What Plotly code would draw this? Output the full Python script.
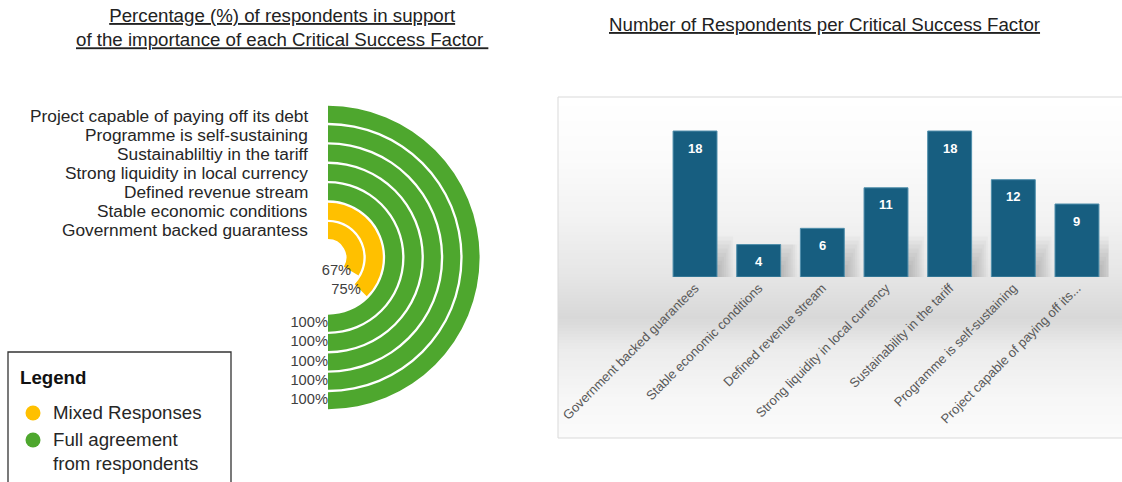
import numpy as np
import plotly.graph_objects as go

W, H = 1122, 482
FONT = "Liberation Sans, Arial, sans-serif"

# ---- Radial chart data (innermost ring first) ----
factors = [
    "Government backed guarantess",
    "Stable economic conditions",
    "Defined revenue stream",
    "Strong liquidity in local currency",
    "Sustainabliltiy in the tariff",
    "Programme is self-sustaining",
    "Project capable of paying off its debt",
]
support_pct = [67, 75, 100, 100, 100, 100, 100]

# ---- Bar chart data ----
bar_factors = [
    "Government backed guarantees",
    "Stable economic conditions",
    "Defined revenue stream",
    "Strong liquidity in local currency",
    "Sustainability in the tariff",
    "Programme is self-sustaining",
    "Project capable of paying off its debt",
]
bar_tick_labels = [
    "Government backed guarantees",
    "Stable economic conditions",
    "Defined revenue stream",
    "Strong liquidity in local currency",
    "Sustainability in the tariff",
    "Programme is self-sustaining",
    "Project capable of paying off its...",
]
respondents = [18, 4, 6, 11, 18, 12, 9]

legend_labels = ["Mixed Responses", "Full agreement<br>from respondents"]

MIXED = "#FFC000"
FULL = "#4EA72E"
BAR = "#175E80"

# ---- radial geometry (pixels on the page) ----
CX, CY, RPX = 328, 257.5, 154
HOLE, THICK = 0.95, 0.88
n = len(factors)
RMAX = HOLE + n
ring_base = [HOLE + i for i in range(n)]
ring_mid = [b + THICK / 2 for b in ring_base]
sweep = [p * 1.8 for p in support_pct]          # 100 % = half circle
ring_colors = [FULL if p >= 100 else MIXED for p in support_pct]

fig = go.Figure()

fig.add_trace(go.Barpolar(
    r=[THICK] * n, base=ring_base,
    theta=[s / 2 for s in sweep], width=sweep,
    marker=dict(color=ring_colors, line=dict(width=0)),
    showlegend=False, hoverinfo="skip",
))
fig.add_trace(go.Scatterpolar(
    r=ring_mid, theta=sweep, mode="text",
    text=[f"{p}%" for p in support_pct],
    textposition="middle left",
    textfont=dict(family=FONT, size=14.7, color="#404040"),
    showlegend=False, hoverinfo="skip",
))

# ---- bar chart: soft layered shadows, then bars ----
resp = np.array(respondents, dtype=float)
n_layers = 8
for k in range(n_layers):
    t = k / (n_layers - 1)
    cap = 5.0 - 3.5 * t
    wid = 0.90 - 0.20 * t
    fig.add_trace(go.Bar(
        x=bar_factors, y=np.minimum(resp, cap), width=wid, offset=-0.3,
        marker=dict(color="rgba(0,0,0,0.022)", line=dict(width=0)),
        xaxis="x", yaxis="y", showlegend=False, hoverinfo="skip",
    ))
fig.add_trace(go.Bar(
    x=bar_factors, y=respondents, width=0.69,
    marker=dict(color=BAR, line=dict(color="#4f8eab", width=1)),
    xaxis="x", yaxis="y", showlegend=False,
))

annotations = []
for f, v in zip(bar_factors, respondents):
    annotations.append(dict(
        x=f, y=v, xref="x", yref="y", yshift=-17, showarrow=False,
        text=f"<b>{v}</b>", font=dict(family=FONT, size=13, color="white"),
    ))

# category labels beside the top of each ring
px_per_unit = 151 / RMAX
for name, rm in zip(factors, ring_mid):
    annotations.append(dict(
        x=310 / W, y=(H - CY + rm * px_per_unit + 1.5) / H, xref="paper", yref="paper",
        xanchor="right", yanchor="middle", showarrow=False, text=name,
        font=dict(family=FONT, size=17.3, color="#262626"),
    ))

# titles
annotations.append(dict(
    x=281.5 / W, y=1 - 27 / H, xref="paper", yref="paper", xanchor="center", yanchor="middle",
    showarrow=False, align="center",
    text="<u>Percentage (%) of respondents in support</u><br><u>of the importance of each Critical Success Factor\u00a0</u>",
    font=dict(family=FONT, size=18.7, color="#222222"),
))
annotations.append(dict(
    x=824.5 / W, y=1 - 24 / H, xref="paper", yref="paper", xanchor="center", yanchor="middle",
    showarrow=False,
    text="<u>Number of Respondents per Critical Success Factor</u>",
    font=dict(family=FONT, size=18.7, color="#222222"),
))

# legend box contents
annotations.append(dict(
    x=18 / W, y=1 - 377 / H, xref="paper", yref="paper", xanchor="left", yanchor="middle",
    showarrow=False, text="<b>Legend</b>", font=dict(family=FONT, size=18.7, color="#111111"),
))
annotations.append(dict(
    x=51 / W, y=1 - 412 / H, xref="paper", yref="paper", xanchor="left", yanchor="middle",
    showarrow=False, text=legend_labels[0], font=dict(family=FONT, size=18.7, color="#262626"),
))
annotations.append(dict(
    x=51 / W, y=1 - 451 / H, xref="paper", yref="paper", xanchor="left", yanchor="middle",
    showarrow=False, align="left", text=legend_labels[1],
    font=dict(family=FONT, size=18.7, color="#262626"),
))

shapes = []
# gradient backdrop of the bar chart frame
stops_y = [97, 160, 220, 275, 318, 350, 400, 438]
stops_g = [255, 251, 242, 230, 216, 236, 247, 251]
ys = np.arange(97, 438, 3)
for y0 in ys:
    y1 = min(y0 + 3, 438)
    g = int(round(np.interp((y0 + y1) / 2, stops_y, stops_g)))
    shapes.append(dict(
        type="rect", xref="paper", yref="paper", layer="below",
        x0=558 / W, x1=1.02, y0=1 - y1 / H, y1=1 - y0 / H,
        fillcolor=f"rgb({g},{g},{g})", line=dict(width=0),
    ))
shapes.append(dict(
    type="rect", xref="paper", yref="paper", layer="below",
    x0=558 / W, x1=1.02, y0=1 - 438 / H, y1=1 - 97 / H,
    fillcolor="rgba(0,0,0,0)", line=dict(color="#d9d9d9", width=1),
))
# legend frame and markers
shapes.append(dict(
    type="rect", xref="paper", yref="paper",
    x0=8 / W, x1=231 / W, y0=-0.05, y1=1 - 352 / H,
    fillcolor="rgba(0,0,0,0)", line=dict(color="#333333", width=1.3),
))
for cy, col in [(413, MIXED), (440, FULL)]:
    shapes.append(dict(
        type="circle", xref="paper", yref="paper",
        x0=25.5 / W, x1=40.5 / W, y0=1 - (cy + 7.5) / H, y1=1 - (cy - 7.5) / H,
        fillcolor=col, line=dict(width=0),
    ))

fig.update_layout(
    template="none",
    width=W, height=H,
    margin=dict(l=0, r=0, t=0, b=0),
    paper_bgcolor="white",
    plot_bgcolor="rgba(0,0,0,0)",
    font=dict(family=FONT),
    barmode="overlay",
    showlegend=False,
    polar=dict(
        domain=dict(x=[(CX - RPX) / W, (CX + RPX) / W],
                    y=[(H - CY - RPX) / H, (H - CY + RPX) / H]),
        bgcolor="white",
        radialaxis=dict(range=[0, RMAX], visible=False),
        angularaxis=dict(rotation=90, direction="clockwise", visible=False),
    ),
    xaxis=dict(
        domain=[663.2 / W, 1108.8 / W], anchor="y", type="category",
        range=[-0.5, len(bar_factors) - 0.5],
        tickvals=bar_factors, ticktext=bar_tick_labels, tickangle=-45,
        tickfont=dict(family=FONT, size=13, color="#595959"),
        showline=False, showgrid=False, zeroline=False, ticks="",
    ),
    yaxis=dict(
        domain=[(H - 277) / H, (H - 114.8) / H], anchor="x", range=[0, 20],
        visible=False, showgrid=False, zeroline=False,
    ),
    annotations=annotations,
    shapes=shapes,
)

fig.write_html("out.html")
